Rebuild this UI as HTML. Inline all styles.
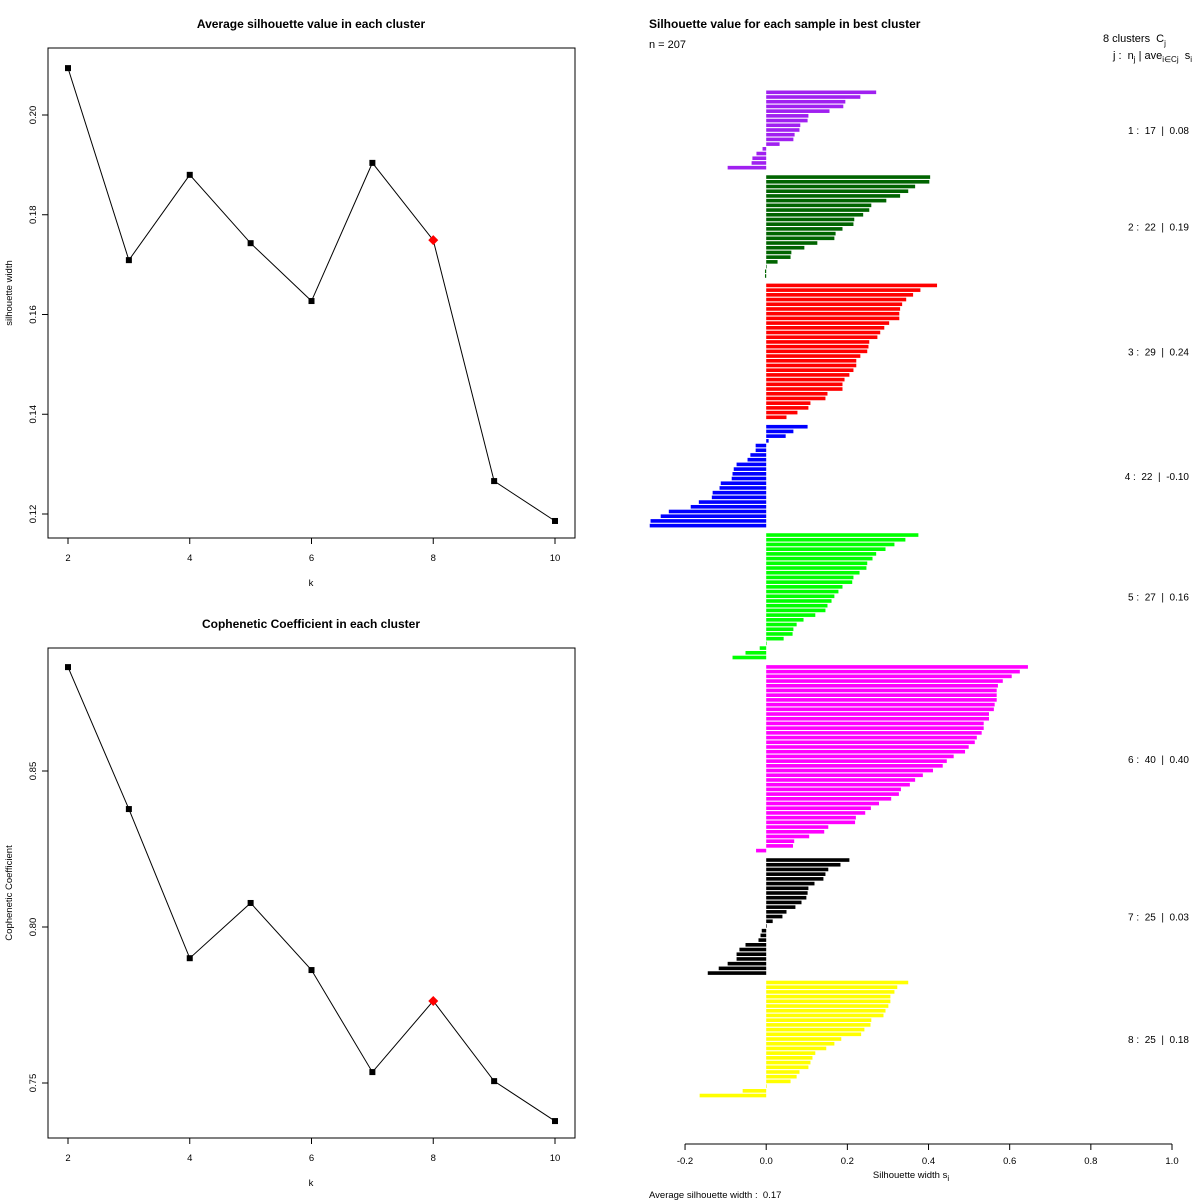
<!DOCTYPE html>
<html><head><meta charset="utf-8">
<style>
html,body{margin:0;padding:0;background:#fff;}
svg{display:block;font-family:"Liberation Sans",sans-serif;}
text{white-space:pre;}
</style></head>
<body>
<svg id="chart" width="1200" height="1200" viewBox="0 0 1200 1200">
  <rect width="1200" height="1200" fill="#fff"/>
  <g id="p1"></g>
  <g id="p2"></g>
  <g id="p3"></g>
</svg>
<script>
const ks = [2,3,4,5,6,7,8,9,10];
const silValues = [0.2094,0.1709,0.1880,0.1743,0.1627,0.1904,0.1749,0.1266,0.1186];
const copValues = [0.8833,0.8378,0.7900,0.8077,0.7862,0.7535,0.7763,0.7506,0.7378];
const bestK = 8;
const silTicks = [0.12,0.14,0.16,0.18,0.20];
const copTicks = [0.75,0.80,0.85];
const kTicks = [2,4,6,8,10];

const clusterIds = [1,2,3,4,5,6,7,8];
const clusterColors = ["#A020F0","#006400","#FF0000","#0000FF","#00FF00","#FF00FF","#000000","#FFFF00"];
const c1 = [.271,.232,.195,.190,.156,.104,.102,.084,.082,.070,.067,.033,-.009,-.024,-.034,-.036,-.095];
const c2 = [.404,.402,.367,.350,.330,.296,.259,.254,.239,.217,.215,.188,.171,.168,.126,.094,.062,.060,.028,0,-.003,-.003];
const c3 = [.421,.380,.362,.345,.335,.330,.328,.328,.303,.291,.281,.274,.254,.252,.249,.232,.222,.222,.215,.205,.193,.188,.188,.151,.146,.109,.104,.077,.050];
const c4 = [.102,.067,.048,.006,-.026,-.026,-.039,-.046,-.073,-.080,-.083,-.085,-.112,-.115,-.132,-.134,-.166,-.186,-.240,-.260,-.285,-.287];
const c5 = [.375,.343,.316,.294,.271,.262,.249,.247,.230,.215,.212,.188,.178,.168,.161,.151,.146,.121,.092,.075,.067,.065,.043,0,-.016,-.051,-.083];
const c6 = [.645,.625,.605,.583,.571,.568,.568,.568,.563,.561,.549,.549,.536,.536,.531,.519,.514,.499,.490,.462,.445,.435,.411,.386,.367,.354,.332,.327,.308,.278,.258,.244,.221,.219,.153,.143,.106,.069,.066,-.025];
const c7 = [.205,.183,.153,.146,.141,.119,.104,.102,.099,.087,.072,.050,.040,.016,0,-.011,-.014,-.019,-.051,-.066,-.073,-.073,-.095,-.117,-.144];
const c8 = [.350,.323,.316,.306,.306,.301,.294,.289,.259,.257,.242,.234,.185,.168,.148,.121,.114,.109,.104,.082,.075,.060,0,-.058,-.164];
const clusterAvgLabels = ["0.08","0.19","0.24","-0.10","0.16","0.40","0.03","0.18"];
const sTicks = [-0.2,0,0.2,0.4,0.6,0.8,1.0];
const sTickLabels = ["-0.2","0.0","0.2","0.4","0.6","0.8","1.0"];

const NS="http://www.w3.org/2000/svg";
function mk(parent,tag,attrs,text){const e=document.createElementNS(NS,tag);for(const k in attrs)e.setAttribute(k,attrs[k]);if(text!==undefined)e.textContent=text;parent.appendChild(e);return e;}

function drawLine(g,vals,ticks,top,bot,vA,pA,vB,pB,title,ytitle,fmt){
  const xS=k=>68+(k-2)*(555-68)/8;
  const yS=v=>pA+(v-vA)*(pB-pA)/(vB-vA);
  let e=mk(g,'rect',{x:48,y:top,width:527,height:bot-top,fill:'none',stroke:'#000','stroke-width':1});
  
  
  e=mk(g,'text',{x:311,y:top-20,'text-anchor':'middle','font-size':12,'font-weight':'bold'},title);
  
  
  e=mk(g,'text',{x:12,y:(top+bot)/2,'text-anchor':'middle','font-size':9.5,transform:`rotate(-90 12 ${(top+bot)/2})`},ytitle);
  
  
  e=mk(g,'text',{x:311,y:bot+48,'text-anchor':'middle','font-size':9.5},'k');
  
  
  kTicks.forEach(k=>{
    mk(g,'line',{x1:xS(k),x2:xS(k),y1:bot,y2:bot+6,stroke:'#000'});
    e=mk(g,'text',{x:xS(k),y:bot+23,'text-anchor':'middle','font-size':9.5},String(k));
    
    
  });
  ticks.forEach(t=>{
    const y=yS(t);
    mk(g,'line',{x1:42,x2:48,y1:y,y2:y,stroke:'#000'});
    e=mk(g,'text',{x:36,y:y,'text-anchor':'middle','font-size':9.5,transform:`rotate(-90 36 ${y})`},fmt(t));
    
    
  });
  const pts=ks.map((k,i)=>xS(k)+','+yS(vals[i])).join(' ');
  e=mk(g,'polyline',{points:pts,fill:'none',stroke:'#000','stroke-width':1});
  
  
  ks.forEach((k,i)=>{
    const x=xS(k),y=yS(vals[i]);
    if(k===bestK){
      e=mk(g,'polygon',{points:`${x},${y-5} ${x+5},${y} ${x},${y+5} ${x-5},${y}`,fill:'#FF0000'});
      
    }else{
      e=mk(g,'rect',{x:x-3,y:y-3,width:6,height:6,fill:'#000'});
      
    }
    
  });
}
drawLine(document.getElementById('p1'),silValues,silTicks,48,538,0.12,514,0.20,115,'Average silhouette value in each cluster','silhouette width',t=>t.toFixed(2));
drawLine(document.getElementById('p2'),copValues,copTicks,648,1138,0.75,1083,0.85,771,'Cophenetic Coefficient in each cluster','Cophenetic Coefficient',t=>t.toFixed(2));

const g3=document.getElementById('p3');
const sx=v=>766.2+v*405.8;
const unit=4.71, yTop=90;
const clusters=[c1,c2,c3,c4,c5,c6,c7,c8];
let slot=0;
clusters.forEach((vals,ci)=>{
  if(ci>0) slot+=1;
  const start=slot;
  vals.forEach(v=>{
    const y=yTop+slot*unit;
    const x0=Math.min(sx(0),sx(v)), w=Math.abs(sx(v)-sx(0));
    const b=mk(g3,'rect',{x:x0,y:y+0.5,width:Math.max(w,0.6),height:unit-1.1,fill:clusterColors[ci]});
    
    
    slot++;
  });
  const cy=yTop+(start+slot)/2*unit+4;
  const t=mk(g3,'text',{x:1189,y:cy,'text-anchor':'end','font-size':10},`${clusterIds[ci]} :  ${vals.length}  |  ${clusterAvgLabels[ci]}`);
  
  
});
let e=mk(g3,'line',{x1:sx(-0.2),x2:sx(1.0),y1:1144,y2:1144,stroke:'#000'});


sTicks.forEach((t,i)=>{
  mk(g3,'line',{x1:sx(t),x2:sx(t),y1:1144,y2:1150,stroke:'#000'});
  e=mk(g3,'text',{x:sx(t),y:1164,'text-anchor':'middle','font-size':9.5},sTickLabels[i]);
  
  
});
</script>
<script>
(function(){
const g=document.getElementById('p3');
function T(x,y,s,opt){const e=document.createElementNS("http://www.w3.org/2000/svg",'text');e.setAttribute('x',x);e.setAttribute('y',y);e.setAttribute('font-size',opt.fs||10);if(opt.bold)e.setAttribute('font-weight','bold');if(opt.anchor)e.setAttribute('text-anchor',opt.anchor);e.innerHTML=s;g.appendChild(e);return e;}
let e=T(649,28,'Silhouette value for each sample in best cluster',{fs:12,bold:true});


e=T(649,48,'n = 207',{fs:11});


e=T(1103,42,'8 clusters  C<tspan dy="4" font-size="8">j</tspan>',{fs:11});


e=T(1113,59,'j :  n<tspan dy="3" font-size="8">j</tspan><tspan dy="-3"> | ave</tspan><tspan dy="3" font-size="8">i∈Cj</tspan><tspan dy="-3">  s</tspan><tspan dy="3" font-size="8">i</tspan>',{fs:11});


e=T(911,1178,'Silhouette width s<tspan dy="3" font-size="8">i</tspan>',{fs:9.5,anchor:'middle'});


e=T(649,1198,'Average silhouette width :  0.17',{fs:9.5});


})();
</script>
</body></html>
